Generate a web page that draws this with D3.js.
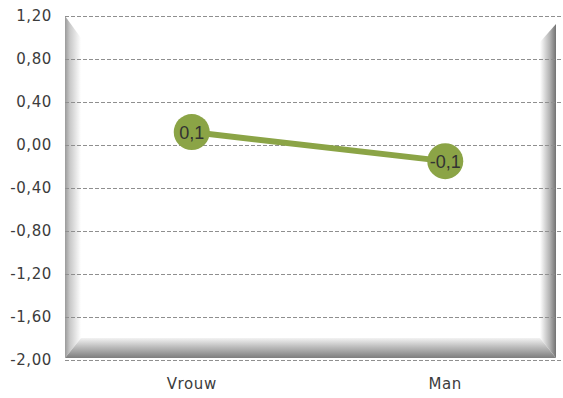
<!DOCTYPE html>
<html><head><meta charset="utf-8">
<script src="https://cdn.jsdelivr.net/npm/d3@7"></script>
<style>body{margin:0;background:#fff}svg{display:block}</style>
</head><body>
<script>
const categories = ["Vrouw", "Man"];
const values = [0.12, -0.15];
const valueLabels = ["0,1", "-0,1"];
const yTicks = [1.2, 0.8, 0.4, 0.0, -0.4, -0.8, -1.2, -1.6, -2.0];

(function () {
const W = 563, H = 398;
const svg = d3.select("body").append("svg").attr("width", W).attr("height", H);
const pL = 65, pR = 562, pT = 16, pB = 360;

const x = d3.scalePoint().domain(categories).range([pL, 572]).padding(0.5);
const y = d3.scaleLinear().domain([-2.0, 1.2]).range([pB, pT]);

const defs = svg.append("defs");
function lg(id, x1, y1, x2, y2, stops) {
  const g = defs.append("linearGradient").attr("id", id)
    .attr("gradientUnits", "userSpaceOnUse")
    .attr("x1", x1).attr("y1", y1).attr("x2", x2).attr("y2", y2);
  stops.forEach(s => g.append("stop").attr("offset", s[0]).attr("stop-color", s[1]));
}
const fl = 65, fr = 556, ft = 16, fb = 358, bw = 16;
lg("gl", fl, 0, fl + bw, 0, [[0, "#9a9a9a"], [0.3, "#c8c8c8"], [1, "#ffffff"]]);
lg("gb", 0, fb - 22, 0, fb, [[0, "#ffffff"], [0.5, "#bcbcbc"], [1, "#7e7e7e"]]);
lg("gr", fr - bw, 0, fr, 0, [[0, "#ffffff"], [0.6, "#b4b4b4"], [1, "#727272"]]);

svg.append("path").attr("fill", "url(#gl)")
  .attr("d", `M${fl},${ft} L${fl + bw},${ft + 22} L${fl + bw},${fb - 20} L${fl},${fb} Z`);
svg.append("path").attr("fill", "url(#gr)")
  .attr("d", `M${fr},${ft + 8} L${fr - bw},${ft + 26} L${fr - bw},${fb - 20} L${fr},${fb} Z`);
svg.append("path").attr("fill", "url(#gb)")
  .attr("d", `M${fl},${fb} L${fl + bw},${fb - 20} L${fr - bw},${fb - 20} L${fr},${fb} Z`);

svg.append("g").selectAll("line").data(yTicks).join("line")
  .attr("x1", pL).attr("x2", pR)
  .attr("y1", d => Math.round(y(d)) + 0.5).attr("y2", d => Math.round(y(d)) + 0.5)
  .attr("stroke", "#8f8f8f").attr("stroke-width", 1).attr("stroke-dasharray", "4,2");

const fmt = d => d3.format(".2f")(d).replace(".", ",").replace("−", "-");
svg.append("g").selectAll("text").data(yTicks).join("text")
  .attr("x", 52).attr("y", d => y(d)).attr("dy", "0.35em")
  .attr("text-anchor", "end")
  .attr("font-family", "DejaVu Sans, sans-serif")
  .attr("font-size", 15).attr("letter-spacing", "0.6px").attr("fill", "#3c3c3c")
  .text(d => fmt(d));

svg.append("g").selectAll("text").data(categories).join("text")
  .attr("x", d => x(d)).attr("y", 389)
  .attr("text-anchor", "middle")
  .attr("font-family", "DejaVu Sans, sans-serif")
  .attr("font-size", 15).attr("letter-spacing", "0.6px").attr("fill", "#3c3c3c")
  .text(d => d);

const pts = categories.map((c, i) => [x(c), y(values[i])]);
svg.append("path").datum(pts)
  .attr("d", d3.line())
  .attr("fill", "none").attr("stroke", "#8ba446").attr("stroke-width", 6);

svg.append("g").selectAll("circle").data(pts).join("circle")
  .attr("cx", d => d[0]).attr("cy", d => d[1]).attr("r", 18)
  .attr("fill", "#8ba446");

svg.append("g").selectAll("text").data(pts).join("text")
  .attr("x", d => d[0]).attr("y", d => d[1]).attr("dy", "0.36em")
  .attr("text-anchor", "middle")
  .attr("font-family", "Liberation Sans, Arial, sans-serif")
  .attr("font-size", 18).attr("fill", "#333333")
  .text((d, i) => valueLabels[i]);
})();
</script>
</body></html>
